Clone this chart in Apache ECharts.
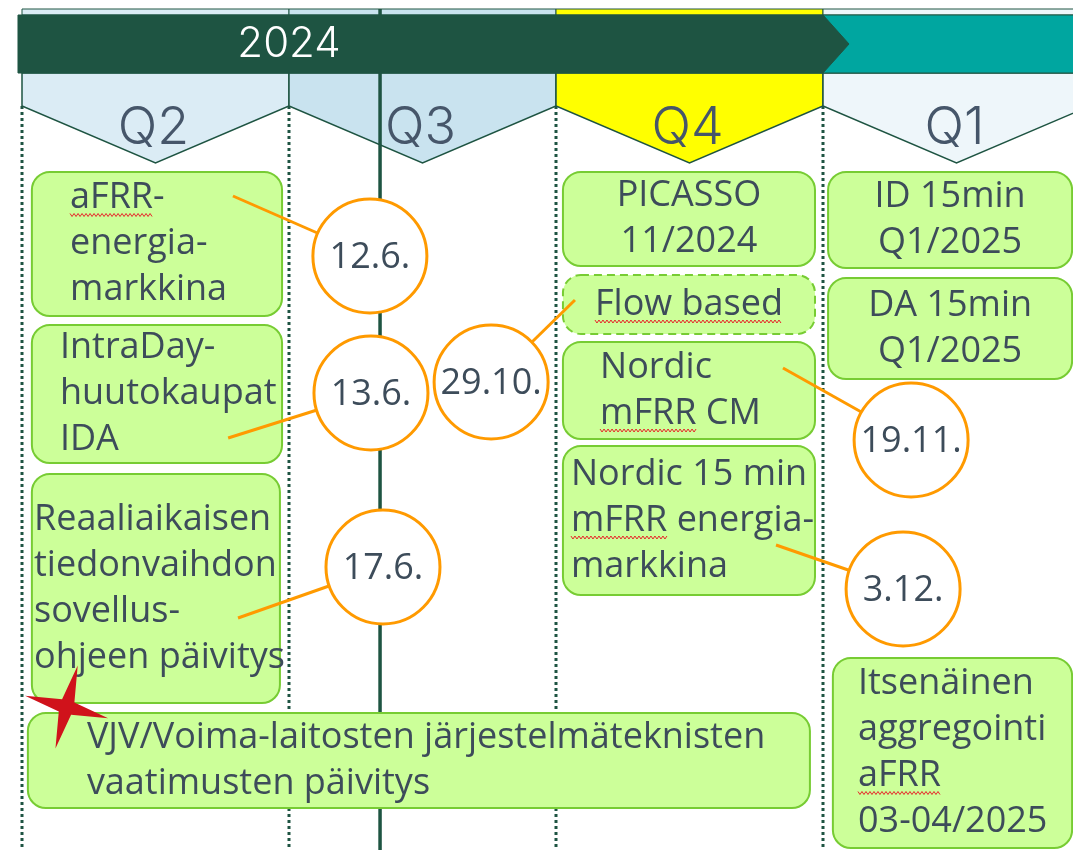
<!DOCTYPE html>
<html><head><meta charset="utf-8">
<script src="https://cdn.jsdelivr.net/npm/echarts@6/dist/echarts.min.js"></script>
<style>html,body{margin:0;padding:0;background:#fff}#c{width:1073px;height:850px}</style>
</head><body><div id="c"></div>
<script>
// Horizontal axis: time in quarters (0 = start of Q2/2024). Vertical axis: lane units from the top.
const quarterLabels = ['Q2', 'Q3', 'Q4', 'Q1'];
const yearLabels = ['', '2024'];
const yearStartQ = [3, -0.015];
const yearEndQ = [4.3, 3];
const todayQ = 1.341;

const boxTexts = [
  'aFRR-\nenergia-\nmarkkina',
  'IntraDay-\nhuutokaupat\nIDA',
  'Reaaliaikaisen\ntiedonvaihdon\nsovellus-\nohjeen päivitys',
  'VJV/Voima-laitosten järjestelmäteknisten\nvaatimusten päivitys',
  'PICASSO\n11/2024',
  'Flow based',
  'Nordic\nmFRR CM',
  'Nordic 15 min\nmFRR energia-\nmarkkina',
  'ID 15min\nQ1/2025',
  'DA 15min\nQ1/2025',
  'Itsenäinen\naggregointi\naFRR\n03-04/2025'
];
const boxStartQ = [0.037, 0.037, 0.037, 0.022, 2.026, 2.026, 2.026, 2.026, 3.019, 3.019, 3.037];
const boxEndQ   = [0.974, 0.974, 0.966, 2.951, 2.970, 2.970, 2.970, 2.970, 3.933, 3.933, 3.933];
const boxTop    = [172, 325, 474, 713, 172, 275, 342, 446, 172, 278, 658];
const boxBottom = [316, 463, 703, 808, 266, 334, 439, 595, 268, 379, 848];
const boxTextQ  = [0.180, 0.142, 0.045, 0.243, null, null, 2.165, 2.056, null, null, 3.131];
const boxTentative = [false, false, false, false, false, true, false, false, false, false, false];
// words marked by the spell checker: [box, line, word]
const spellMarks = [[0, 0, 'aFRR'], [5, 0, 'Flow based'], [6, 1, 'mFRR'], [7, 1, 'mFRR'], [10, 2, 'aFRR']];

const milestoneLabels = ['12.6.', '13.6.', '29.10.', '17.6.', '19.11.', '3.12.'];
const milestoneQ    = [1.303, 1.307, 1.757, 1.352, 3.330, 3.300];
const milestoneLane = [256, 393, 382, 567, 440, 589];
const linkFromQ     = [0.790, 0.772, 2.071, 0.809, 2.850, 2.824];
const linkFromLane  = [196, 438, 300, 618, 368, 545];

const flagQ = [0.167];
const flagLane = [707];

const DARK = '#1e5442', TEAL = '#00a6a0', TXT = '#3d4c5a', ORANGE = '#ff9a00';
const quarterFill = ['#dbecf5', '#c9e3ef', '#ffff00', '#eef6fa'];
const FONT = '"Open Sans", sans-serif';
const BOX_FONT = '500 36px ' + FONT;
const LINE_H = 46;

const measureCtx = document.createElement('canvas').getContext('2d');
function textWidth(s, font) { measureCtx.font = font; return measureCtx.measureText(s).width; }

const chart = echarts.init(document.getElementById('c'), null, {renderer: 'canvas'});

function quarterItem(params, api) {
  const i = params.dataIndex;
  const a = api.coord([i, 73]), b = api.coord([i + 1, 73]);
  const side = api.coord([i, 106])[1], tip = api.coord([i + 0.5, 163]);
  const top1 = api.coord([i, 9])[1], top2 = api.coord([i, 15])[1];
  return {type: 'group', children: [
    {type: 'rect', shape: {x: a[0], y: top1, width: b[0] - a[0], height: top2 - top1},
     style: {fill: quarterFill[i], stroke: DARK, lineWidth: 1}},
    {type: 'polygon', shape: {points: [[a[0], a[1]], [b[0], b[1]], [b[0], side], [tip[0], tip[1]], [a[0], side]]},
     style: {fill: quarterFill[i], stroke: DARK, lineWidth: 1.5}},
    {type: 'text', style: {text: quarterLabels[i], x: tip[0] - 2, y: api.coord([i, 128])[1], align: 'center', verticalAlign: 'middle',
      font: '300 52px Inter, sans-serif', fill: '#46566a'}}
  ]};
}

function gridLineItem(params, api) {
  const i = params.dataIndex;
  if (i < 4) {
    const p0 = api.coord([i, 106]), p1 = api.coord([i, 850]);
    return {type: 'line', shape: {x1: p0[0], y1: p0[1], x2: p1[0], y2: p1[1]},
      style: {stroke: DARK, lineWidth: 3, lineDash: [3, 3]}};
  }
  const p0 = api.coord([todayQ, 9]), p1 = api.coord([todayQ, 850]);
  return {type: 'line', shape: {x1: p0[0], y1: p0[1], x2: p1[0], y2: p1[1]}, style: {stroke: DARK, lineWidth: 3.5}};
}

function yearItem(params, api) {
  const i = params.dataIndex;
  const a = api.coord([yearStartQ[i], 15]), b = api.coord([yearEndQ[i], 73]);
  const mid = (a[1] + b[1]) / 2;
  if (yearLabels[i]) {
    return {type: 'group', children: [
      {type: 'polygon', z2: 10, shape: {points: [[a[0], a[1]], [b[0], a[1]], [b[0] + 26, mid], [b[0], b[1]], [a[0], b[1]]]},
       style: {fill: DARK, stroke: DARK, lineWidth: 1}},
      {type: 'text', z2: 11, style: {text: yearLabels[i], x: api.coord([1.0, 0])[0], y: mid, align: 'center', verticalAlign: 'middle',
        font: '300 42px Inter, sans-serif', fill: '#ffffff'}}
    ]};
  }
  return {type: 'rect', z2: 1, shape: {x: a[0], y: a[1], width: b[0] - a[0], height: b[1] - a[1]},
    style: {fill: TEAL, stroke: DARK, lineWidth: 1}};
}

function boxItem(params, api) {
  const i = params.dataIndex;
  const p0 = api.coord([boxStartQ[i], boxTop[i]]), p1 = api.coord([boxEndQ[i], boxBottom[i]]);
  const lines = boxTexts[i].split('\n');
  const cy = (p0[1] + p1[1]) / 2;
  let tx, align;
  if (boxTextQ[i] === null) { tx = (p0[0] + p1[0]) / 2; align = 'center'; }
  else { tx = api.coord([boxTextQ[i], 0])[0]; align = 'left'; }
  const children = [
    {type: 'rect', shape: {x: p0[0], y: p0[1], width: p1[0] - p0[0], height: p1[1] - p0[1], r: 18},
     style: {fill: '#ccff99', stroke: '#77cc33', lineWidth: 2, lineDash: boxTentative[i] ? [8, 5] : null}},
    {type: 'text', style: {text: boxTexts[i], x: tx, y: cy, align: align, verticalAlign: 'middle',
      font: BOX_FONT, lineHeight: LINE_H, fill: TXT}}
  ];
  spellMarks.filter(m => m[0] === i).forEach(m => {
    const line = lines[m[1]];
    const lw = textWidth(line, BOX_FONT);
    const lineX = align === 'center' ? tx - lw / 2 : tx;
    const pos = line.indexOf(m[2]);
    const x0 = lineX + textWidth(line.slice(0, pos), BOX_FONT);
    const x1 = x0 + textWidth(m[2], BOX_FONT);
    const y = cy + (m[1] - (lines.length - 1) / 2) * LINE_H + 17;
    const pts = [];
    for (let x = x0, k = 0; x <= x1; x += 2, k++) pts.push([x, y + (k % 2 ? 1.5 : -1.5)]);
    children.push({type: 'polyline', shape: {points: pts}, style: {stroke: '#e8262a', lineWidth: 1, fill: null}});
  });
  return {type: 'group', children: children};
}

function linkItem(params, api) {
  const i = params.dataIndex;
  const a = api.coord([linkFromQ[i], linkFromLane[i]]), b = api.coord([milestoneQ[i], milestoneLane[i]]);
  return {type: 'line', shape: {x1: a[0], y1: a[1], x2: b[0], y2: b[1]}, style: {stroke: ORANGE, lineWidth: 3}};
}

function milestoneItem(params, api) {
  const i = params.dataIndex;
  const c = api.coord([milestoneQ[i], milestoneLane[i]]);
  return {type: 'group', children: [
    {type: 'circle', shape: {cx: c[0], cy: c[1], r: 57}, style: {fill: '#ffffff', stroke: ORANGE, lineWidth: 3}},
    {type: 'text', style: {text: milestoneLabels[i], x: c[0], y: c[1] + 2, align: 'center', verticalAlign: 'middle',
      font: '500 36px ' + FONT, fill: TXT}}
  ]};
}

function flagItem(params, api) {
  const c = api.coord([flagQ[params.dataIndex], flagLane[params.dataIndex]]);
  const pts = [];
  for (let k = 0; k < 8; k++) {
    const ang = (-75 + k * 45) * Math.PI / 180;
    const r = k % 2 === 0 ? 43 : 9;
    pts.push([c[0] + r * Math.cos(ang), c[1] + r * Math.sin(ang)]);
  }
  return {type: 'polygon', shape: {points: pts}, style: {fill: '#d0121b'}};
}

const XMIN = -22 / 267, XMAX = (1073 - 22) / 267;

chart.setOption({
  animation: false,
  grid: {left: 0, right: 0, top: 0, bottom: 0},
  xAxis: {type: 'value', min: XMIN, max: XMAX, show: false},
  yAxis: {type: 'value', min: 0, max: 850, inverse: true, show: false},
  series: [
    {type: 'custom', renderItem: quarterItem, data: quarterLabels.map((q, i) => [i, 73]), clip: false, silent: true},
    {type: 'custom', renderItem: gridLineItem, data: [[0, 0], [1, 0], [2, 0], [3, 0], [todayQ, 0]], clip: false, silent: true},
    {type: 'custom', renderItem: yearItem, data: yearLabels.map((y, i) => [yearStartQ[i], 15]), clip: false, silent: true},
    {type: 'custom', renderItem: boxItem, data: boxTexts.map((t, i) => [boxStartQ[i], boxTop[i]]), clip: false, silent: true},
    {type: 'custom', renderItem: linkItem, data: milestoneLabels.map((m, i) => [linkFromQ[i], linkFromLane[i]]), clip: false, silent: true},
    {type: 'custom', renderItem: milestoneItem, data: milestoneLabels.map((m, i) => [milestoneQ[i], milestoneLane[i]]), clip: false, silent: true},
    {type: 'custom', renderItem: flagItem, data: flagQ.map((q, i) => [q, flagLane[i]]), clip: false, silent: true}
  ]
});
</script></body></html>
